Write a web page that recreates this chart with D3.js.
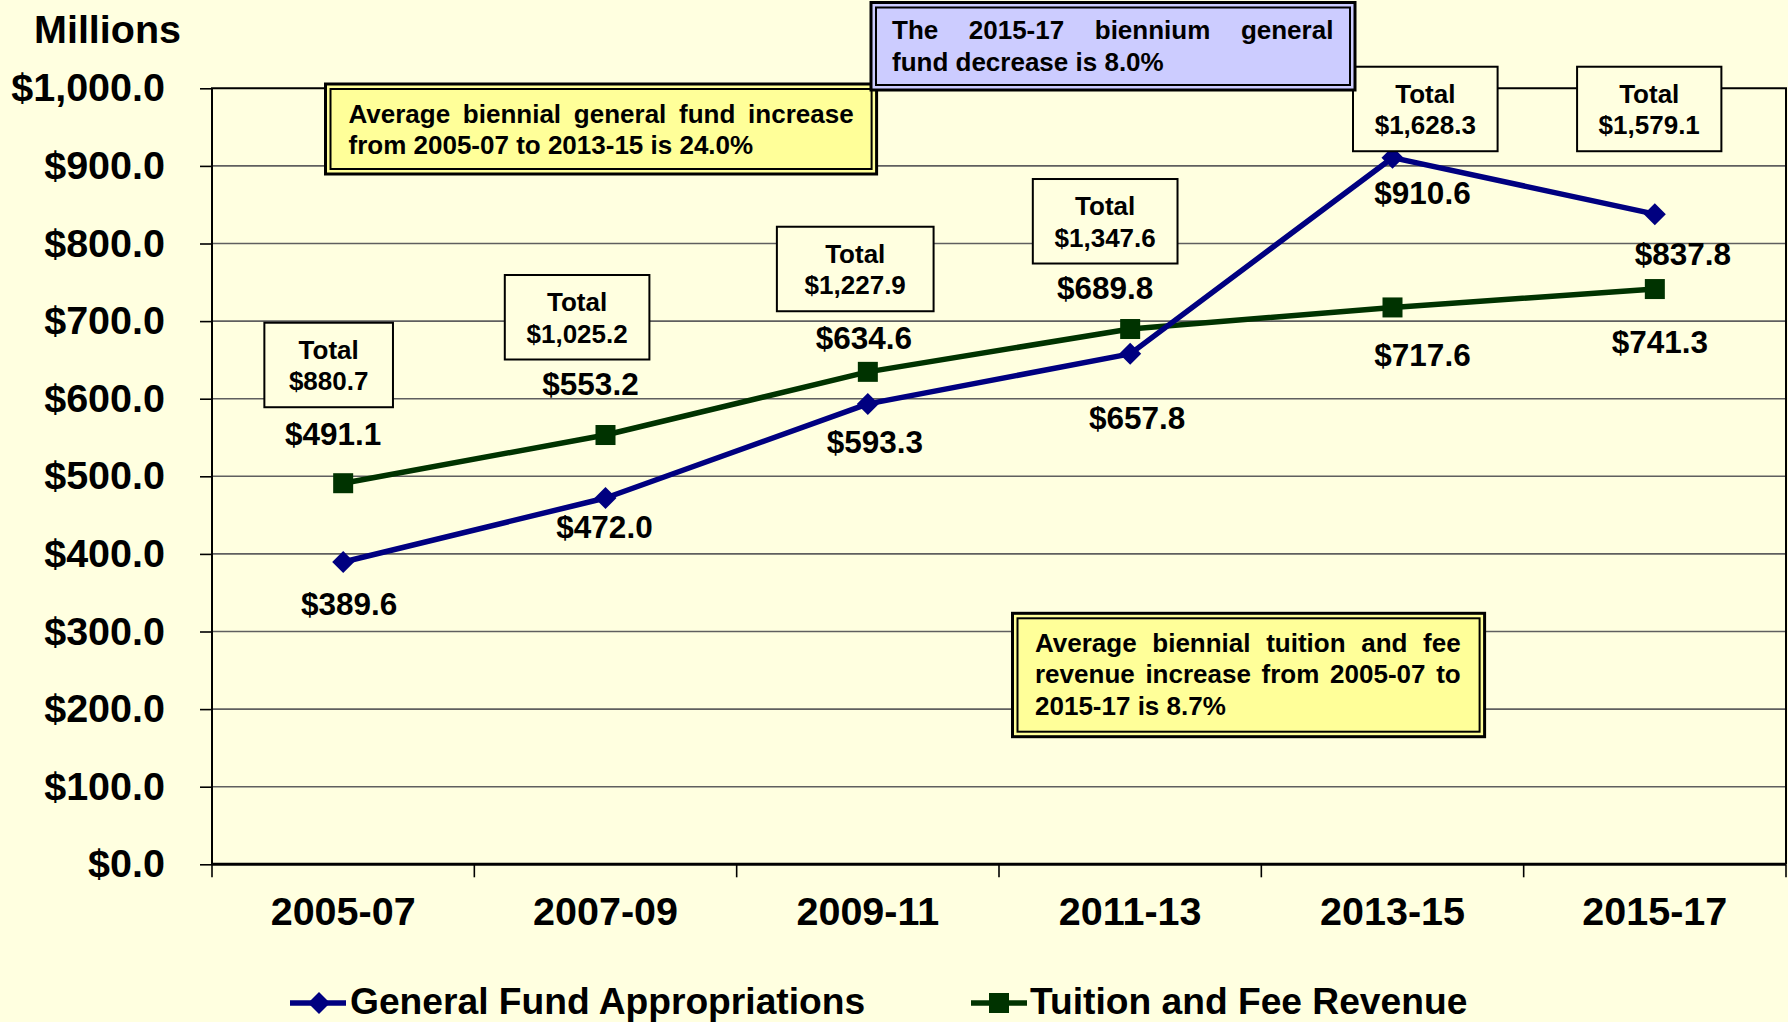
<!DOCTYPE html>
<html><head><meta charset="utf-8">
<script src="https://cdn.jsdelivr.net/npm/d3@7"></script>
<style>
html,body{margin:0;padding:0;background:#FFFFE0;}
svg{display:block;}
text{font-family:"Liberation Sans", Arial, Helvetica, sans-serif;font-weight:bold;fill:#000;}
</style></head><body>
<svg id="chart" width="1788" height="1022"></svg>
<script>
// ---------------- data ----------------
const categories = ["2005-07", "2007-09", "2009-11", "2011-13", "2013-15", "2015-17"];
const generalFund = [389.6, 472.0, 593.3, 657.8, 910.6, 837.8];
const tuitionFees = [491.1, 553.2, 634.6, 689.8, 717.6, 741.3];
const biennialTotals = [880.7, 1025.2, 1227.9, 1347.6, 1628.3, 1579.1];
const yTickValues = [0, 100, 200, 300, 400, 500, 600, 700, 800, 900, 1000];
const seriesNames = ["General Fund Appropriations", "Tuition and Fee Revenue"];
const axisTitle = "Millions";
const noteGeneralIncrease = ["Average biennial general fund increase", "from 2005-07 to 2013-15 is 24.0%"];
const noteDecrease = ["The 2015-17 biennium general", "fund decrease is 8.0%"];
const noteTuitionIncrease = ["Average biennial tuition and fee", "revenue increase from 2005-07 to", "2015-17 is 8.7%"];

// ---------------- layout / style ----------------
const W = 1788, H = 1022;
const plot = {left: 212, right: 1786, top: 88.3, bottom: 864.3};
const colors = {gf: "#000080", tf: "#003300", grid: "#5f5f5f", yellow: "#FFFF99", blue: "#CCCCFF", bg: "#FFFFE0"};
// label offsets from data point (dx, dy to baseline)
const gfLabelOffsets = [[6, 53], [-1, 40], [7, 49], [7, 75], [30, 46], [28, 51]];
const tfLabelOffsets = [[-10, -38], [-15, -40], [-4, -23], [-25, -30], [30, 59], [5, 64]];
// total boxes: dx from category centre, top edge given in axis units, width
const totalBoxLayout = [
  {dx: -14.5, top: 697.9, w: 128.6},
  {dx: -28.4, top: 759.4, w: 144.6},
  {dx: -12.6, top: 821.6, w: 156.7},
  {dx: -25.0, top: 883.1, w: 144.7},
  {dx: 32.8, top: 1027.8, w: 144.6},
  {dx: -5.6, top: 1027.8, w: 144.3}
];

const svg = d3.select("#chart");
svg.append("rect").attr("width", W).attr("height", H).attr("fill", colors.bg);

const x = d3.scaleBand().domain(categories).range([plot.left, plot.right]).padding(0);
const cx = c => x(c) + x.bandwidth() / 2;
const y = d3.scaleLinear().domain([0, 1000]).range([plot.bottom, plot.top]);

// gridlines
svg.append("g").selectAll("line").data(yTickValues.filter(v => v > 0 && v < 1000)).join("line")
  .attr("x1", plot.left).attr("x2", plot.right)
  .attr("y1", d => y(d)).attr("y2", d => y(d))
  .attr("stroke", colors.grid).attr("stroke-width", 1.6);

// y axis
const yAxis = svg.append("g").attr("transform", `translate(${plot.left},0)`)
  .call(d3.axisLeft(y).tickValues(yTickValues).tickSize(12).tickPadding(35)
    .tickFormat(d => "$" + d3.format(",.1f")(d)));
yAxis.select(".domain").remove();
yAxis.selectAll(".tick line").attr("stroke", "#000").attr("stroke-width", 1.6);
yAxis.selectAll(".tick text").attr("font-size", 39.5).attr("dy", "0.32em")
  .attr("font-family", '"Liberation Sans", Arial, sans-serif').attr("font-weight", "bold").attr("fill", "#000");

// x axis (labels at centres, ticks at band edges)
const xAxis = svg.append("g").attr("transform", `translate(0,${plot.bottom})`)
  .call(d3.axisBottom(x).tickSize(0).tickPadding(33));
xAxis.select(".domain").remove();
xAxis.selectAll(".tick text").attr("font-size", 39.5)
  .attr("font-family", '"Liberation Sans", Arial, sans-serif').attr("font-weight", "bold").attr("fill", "#000");
const edges = categories.map(c => x(c)).concat([plot.right]);
svg.append("g").selectAll("line").data(edges).join("line")
  .attr("x1", d => d).attr("x2", d => d)
  .attr("y1", plot.bottom).attr("y2", plot.bottom + 13)
  .attr("stroke", "#000").attr("stroke-width", 1.6);

// plot border
svg.append("path")
  .attr("d", `M${plot.left},${plot.bottom}V${plot.top}H${plot.right}V${plot.bottom}`)
  .attr("fill", "none").attr("stroke", "#000").attr("stroke-width", 2);
svg.append("line").attr("x1", plot.left).attr("x2", plot.right)
  .attr("y1", plot.bottom).attr("y2", plot.bottom)
  .attr("stroke", "#000").attr("stroke-width", 3);

// axis title
svg.append("text").attr("x", 34).attr("y", 43).attr("font-size", 39.5).text(axisTitle);

// lines
const line = d3.line().x((d, i) => cx(categories[i])).y(d => y(d));
svg.append("path").datum(tuitionFees).attr("d", line)
  .attr("fill", "none").attr("stroke", colors.tf).attr("stroke-width", 5.5).attr("stroke-linejoin", "round");
svg.append("path").datum(generalFund).attr("d", line)
  .attr("fill", "none").attr("stroke", colors.gf).attr("stroke-width", 5.5).attr("stroke-linejoin", "round");

const diamond = (px, py, r) => `M${px},${py - r}L${px + r},${py}L${px},${py + r}L${px - r},${py}Z`;
svg.append("g").selectAll("rect").data(tuitionFees).join("rect")
  .attr("x", (d, i) => cx(categories[i]) - 10).attr("y", d => y(d) - 10)
  .attr("width", 20).attr("height", 20).attr("fill", colors.tf);
svg.append("g").selectAll("path").data(generalFund).join("path")
  .attr("d", (d, i) => diamond(cx(categories[i]), y(d), 11)).attr("fill", colors.gf);

// data labels
const fmt = v => "$" + d3.format(",.1f")(v);
svg.append("g").selectAll("text").data(tuitionFees).join("text")
  .attr("x", (d, i) => cx(categories[i]) + tfLabelOffsets[i][0])
  .attr("y", (d, i) => y(d) + tfLabelOffsets[i][1])
  .attr("text-anchor", "middle").attr("font-size", 31.5).text(fmt);
svg.append("g").selectAll("text").data(generalFund).join("text")
  .attr("x", (d, i) => cx(categories[i]) + gfLabelOffsets[i][0])
  .attr("y", (d, i) => y(d) + gfLabelOffsets[i][1])
  .attr("text-anchor", "middle").attr("font-size", 31.5).text(fmt);

// total boxes
const tb = svg.append("g").selectAll("g").data(biennialTotals).join("g")
  .attr("transform", (d, i) => `translate(${cx(categories[i]) + totalBoxLayout[i].dx},${y(totalBoxLayout[i].top)})`);
tb.append("rect").attr("x", (d, i) => -totalBoxLayout[i].w / 2).attr("y", 0)
  .attr("width", (d, i) => totalBoxLayout[i].w).attr("height", 84.5)
  .attr("fill", colors.bg).attr("stroke", "#000").attr("stroke-width", 2);
tb.append("text").attr("text-anchor", "middle").attr("y", 36).attr("font-size", 26).text("Total");
tb.append("text").attr("text-anchor", "middle").attr("y", 67.5).attr("font-size", 26).text(fmt);

// note boxes
function noteBox(x0, y0, x1, y1, fill) {
  svg.append("rect").attr("x", x0).attr("y", y0).attr("width", x1 - x0).attr("height", y1 - y0)
    .attr("fill", fill).attr("stroke", "#000").attr("stroke-width", 3);
  svg.append("rect").attr("x", x0 + 5).attr("y", y0 + 5).attr("width", x1 - x0 - 10).attr("height", y1 - y0 - 10)
    .attr("fill", "none").attr("stroke", "#000").attr("stroke-width", 2);
}
function justified(lines, x0, x1, base, lh, size) {
  lines.forEach((ln, i) => {
    const t = svg.append("text").attr("font-size", size).attr("y", base + i * lh);
    if (i === lines.length - 1) { t.attr("x", x0).text(ln); return; }
    const words = ln.split(" ");
    const spans = words.map(w => t.append("tspan").text(w));
    const widths = spans.map(s => s.node().getComputedTextLength());
    const gap = (x1 - x0 - d3.sum(widths)) / (words.length - 1);
    let xx = x0;
    spans.forEach((s, j) => { s.attr("x", xx); xx += widths[j] + gap; });
  });
}
noteBox(325.5, 84, 876.6, 174, colors.yellow);
justified(noteGeneralIncrease, 348.5, 853.6, 123.3, 30.7, 26);
noteBox(871, 2.5, 1355, 90, colors.blue);
justified(noteDecrease, 892, 1333.4, 39.3, 31.4, 26);
noteBox(1012.5, 613.3, 1484.6, 736.7, colors.yellow);
justified(noteTuitionIncrease, 1035, 1460.7, 651.7, 31.6, 26);

// legend
const lg = svg.append("g");
lg.append("line").attr("x1", 290).attr("x2", 346).attr("y1", 1003).attr("y2", 1003)
  .attr("stroke", colors.gf).attr("stroke-width", 5.5);
lg.append("path").attr("d", diamond(319, 1003, 11)).attr("fill", colors.gf);
lg.append("text").attr("x", 350).attr("y", 1013.5).attr("font-size", 37.2).text(seriesNames[0]);
lg.append("line").attr("x1", 971).attr("x2", 1027).attr("y1", 1003).attr("y2", 1003)
  .attr("stroke", colors.tf).attr("stroke-width", 5.5);
lg.append("rect").attr("x", 989).attr("y", 993).attr("width", 20).attr("height", 20).attr("fill", colors.tf);
lg.append("text").attr("x", 1030).attr("y", 1013.5).attr("font-size", 37.2).text(seriesNames[1]);
</script>
</body></html>
